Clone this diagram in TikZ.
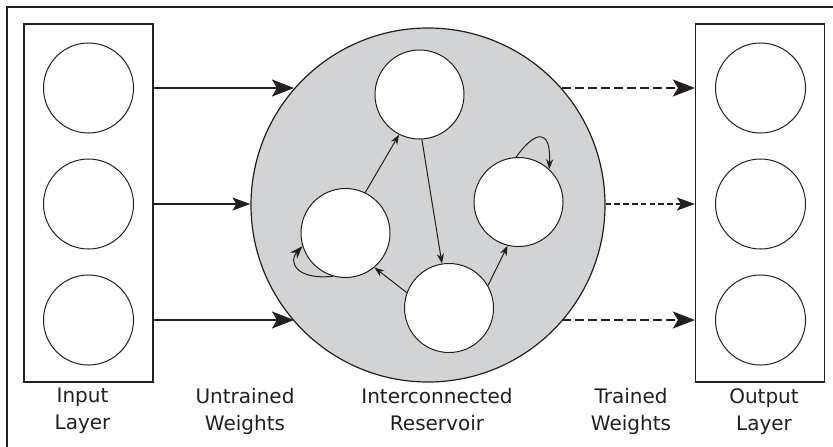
\documentclass[tikz,border=0pt]{standalone}
\usepackage{fontspec}
\setmainfont{DejaVu Sans}
\usetikzlibrary{arrows.meta}
\definecolor{ink}{RGB}{35,31,32}
\definecolor{resgray}{RGB}{209,211,212}

\begin{document}
\begin{tikzpicture}[x=0.5pt,y=-0.5pt,>={Stealth[length=11pt,width=8.5pt,inset=2.5pt]},ink]
		\tikzstyle{layer}=[rectangle, draw=ink, line width=0.6pt, minimum width=64.5pt, minimum height=179pt, inner sep=0pt]
		\tikzstyle{unit}=[circle, draw=ink, line width=0.5pt, minimum size=45pt, inner sep=0pt]
		\tikzstyle{neuron}=[circle, draw=ink, fill=white, line width=0.5pt, minimum size=44.5pt, inner sep=0pt]
		\tikzstyle{weight}=[->, line width=1pt]
		\tikzstyle{weight thin}=[->, line width=0.65pt, >={Stealth[length=9pt,width=6.5pt,inset=2pt]}]
		\tikzstyle{trained}=[dash pattern=on 4.5pt off 2pt]
		\tikzstyle{trained thin}=[dash pattern=on 2.8pt off 1.6pt]
		\tikzstyle{link}=[->, line width=0.5pt, >={Stealth[length=5pt,width=3.6pt]}]
		\tikzstyle{caption}=[anchor=north, inner sep=0pt, align=center, font=\fontsize{10pt}{13.5pt}\selectfont]

		\clip (0,0) rectangle (833,446);
		\draw[line width=1pt] (7,7) rectangle (850,460);

		% input and output layers
		\node [layer] (inbox) at (88.5,203) {};
		\node [layer] (outbox) at (760,203) {};
		\foreach \i/\y in {1/88,2/204,3/320} {
			\node [unit] (in\i) at (88.5,\y) {};
			\node [unit] (out\i) at (760.5,\y) {};
		}

		% reservoir
		\node [circle, draw=ink, fill=resgray, line width=0.6pt, minimum size=177pt, inner sep=0pt] (res) at (428,205) {};
		\node [neuron] (rt) at (419.5,94.5) {};
		\node [neuron] (rl) at (345.5,233) {};
		\node [neuron] (rr) at (518.5,202) {};
		\node [neuron] (rb) at (449,308) {};

		\draw [link] (rl.64) -- (rt.243);
		\draw [link] (rt.273) -- (rb.99);
		\draw [link] (rb.160) -- (rl.-50);
		\draw [link] (rb.30) -- (rr.256);
		\draw [link] (rr.93) .. controls +(20,-28) and +(2,-40) .. (rr.47);
		\draw [link, >={Stealth[length=6.5pt,width=4.6pt]}] (rl.254) .. controls +(-38,4) and +(-14,15) .. (rl.197);

		% weights
		\draw [weight] (inbox.east |- in1) -- (res.139 |- in1);
		\draw [weight thin] (inbox.east |- in2) -- (res.west |- in2);
		\draw [weight] (inbox.east |- in3) -- (res.-139 |- in3);
		\draw [weight, trained] (res.41 |- out1) -- (outbox.west |- out1);
		\draw [weight thin, trained thin] (res.east |- out2) -- (outbox.west |- out2);
		\draw [weight, trained] (res.-41 |- out3) -- (outbox.west |- out3);

		% captions
		\node [caption] (inlabel) at (82.5,388) {Input\\Layer};
		\node [caption] (uwlabel) at (245,388) {Untrained\\Weights};
		\node [caption] (reslabel) at (437,388) {Interconnected\\Reservoir};
		\node [caption] (twlabel) at (631,388) {Trained\\Weights};
		\node [caption] (outlabel) at (764,388) {Output\\Layer};
	\end{tikzpicture}
\end{document}
